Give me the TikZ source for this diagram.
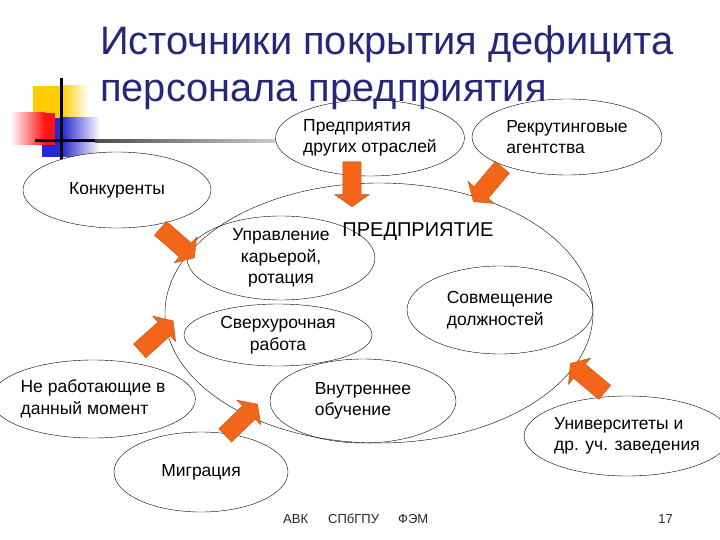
\documentclass[tikz,border=0pt]{standalone}
\usepackage{fontspec}
\setmainfont{Liberation Sans}
\usetikzlibrary{shapes.geometric,shapes.arrows,positioning}

\definecolor{titleblue}{RGB}{38,38,122}
\definecolor{arroworange}{RGB}{242,102,26}
\definecolor{logoyellow}{RGB}{255,204,0}
\definecolor{logored}{RGB}{255,20,20}
\definecolor{logoblue}{RGB}{40,40,210}

\begin{document}
\begin{tikzpicture}[x=1pt, y=-1pt,
    oval/.style={ellipse, draw, fill=white, inner sep=0pt, align=left, font=\fontsize{17.5}{21.5}\selectfont},
    inoval/.style={oval, fill=none},
    push/.style={single arrow, draw=arroworange!80!black, fill=arroworange, minimum height=45pt, minimum width=34pt,
        single arrow head extend=8pt, single arrow tip angle=110, inner xsep=0pt, inner ysep=9pt},
    heading/.style={font=\fontsize{39.8}{47}\selectfont, text=titleblue, anchor=base west, inner sep=0pt},
    foot/.style={font=\fontsize{13}{15}\selectfont, text=black!85, anchor=base west, inner sep=0pt},
]
\useasboundingbox (0,0) rectangle (720,540);

% Logo in the corner
\fill[logoyellow] (33,86) rectangle (62,118);
\shade[left color=logoyellow, right color=white] (62,86) rectangle (88,118);
\fill[logoblue] (42,118) rectangle (62,157);
\shade[left color=logoblue, right color=white] (62,118) rectangle (100,157);
\shade[left color=white, right color=logored] (10,113) rectangle (45,145);
\fill[logored] (45,113) rectangle (55,145);
\fill (60,78) rectangle (63,160);
\fill (35,139.5) rectangle (95,142.5);
\shade[left color=black!70, right color=gray!40] (95,139.5) rectangle (278,142.5);

% The enterprise
\node[ellipse, draw, minimum width=428pt, minimum height=260pt] (firm) at (379,313) {};
\node[font=\fontsize{20}{24}\selectfont, inner sep=0pt] (firmlbl) at (418,232) {ПРЕДПРИЯТИЕ};

% Inner sources
\node[inoval, align=center, minimum width=188pt, minimum height=84pt] (career) at (281,258) {Управление\\карьерой,\\ротация};
\node[inoval, minimum width=186pt, minimum height=88pt] (combine) at (500,310) {Совмещение\\должностей};
\node[inoval, align=center, minimum width=188pt, minimum height=62pt] (overtime) at (278,335) {Сверхурочная\\работа};
\node[inoval, minimum width=186pt, minimum height=84pt] (training) at (363,401) {Внутреннее\\обучение};

% Outer sources
\node[oval, minimum width=188pt, minimum height=76pt] (firms) at (370,138) {Предприятия\\других отраслей};
\node[oval, minimum width=190pt, minimum height=76pt] (agency) at (567,137) {Рекрутинговые\\агентства};
\node[oval, minimum width=188pt, minimum height=76pt] (rivals) at (117,190) {Конкуренты};
\node[oval, minimum width=186pt, minimum height=78pt] (idle) at (93,399) {Не работающие в\\данный момент};
\node[oval, minimum width=174pt, minimum height=80pt] (migr) at (201,472) {Миграция};
\node[oval, minimum width=184pt, minimum height=80pt] (univ) at (627,436) {Университеты и\\др. уч. заведения};

% Block arrows into the enterprise
\node[push, rotate=-90] (p1) at (352,181) {};
\node[push, rotate=-130] (p2) at (490,182) {};
\node[push, rotate=-41] (p3) at (175,241) {};
\node[push, rotate=42] (p4) at (154,338) {};
\node[push, rotate=44] (p5) at (239,422) {};
\node[push, rotate=140] (p6) at (590,380) {};

% Title
\node[heading] (title1) at (100,55) {Источники покрытия дефицита};
\node[heading] (title2) at (100,102) {персонала предприятия};

% Footer
\node[foot] (f1) at (283,523) {АВК};
\node[foot] (f2) at (328,523) {СПбГПУ};
\node[foot] (f3) at (398,523) {ФЭМ};
\node[foot, anchor=base east] (f4) at (673,523) {17};

\end{tikzpicture}
\end{document}
